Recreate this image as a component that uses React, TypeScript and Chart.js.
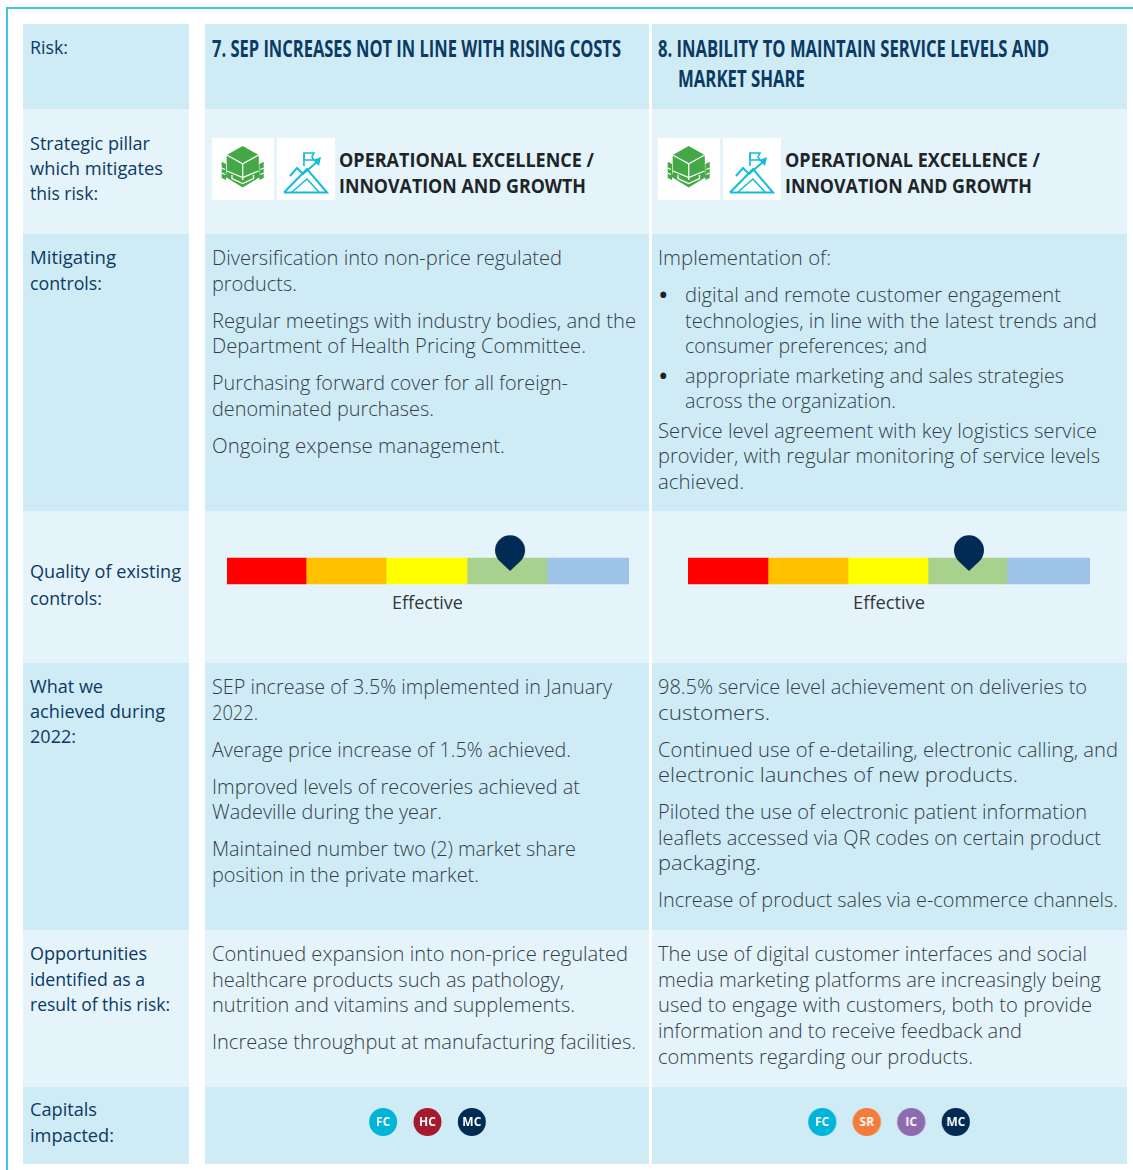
import React, { useEffect, useRef } from "react";
import { Chart, registerables } from "chart.js";

Chart.register(...registerables);

type L = [string, number, number, number];

const sideLines: L[] = [
  ["Risk:", 30, 47, 68],
  ["Strategic pillar", 30, 143, 150],
  ["which mitigates", 30, 168, 163],
  ["this risk:", 30, 193, 98],
  ["Mitigating", 30, 257, 116],
  ["controls:", 30, 283, 102],
  ["Quality of existing", 30, 571, 181],
  ["controls:", 30, 598, 102],
  ["What we", 30, 686, 103],
  ["achieved during", 30, 711, 165],
  ["2022:", 30, 736, 76],
  ["Opportunities", 30, 953, 147],
  ["identified as a", 30, 979, 145],
  ["result of this risk:", 30, 1004, 170],
  ["Capitals", 30, 1109, 97],
  ["impacted:", 30, 1135, 114],
];

const titleLines: L[] = [
  ["7. SEP INCREASES NOT IN LINE WITH RISING COSTS", 212, 48, 621],
  ["8. INABILITY TO MAINTAIN SERVICE LEVELS AND", 658, 48, 1049],
  ["MARKET SHARE", 678, 78, 805],
];

const pillarLines: L[] = [
  ["OPERATIONAL EXCELLENCE /", 339, 160, 594],
  ["INNOVATION AND GROWTH", 339, 186, 586],
  ["OPERATIONAL EXCELLENCE /", 785, 160, 1040],
  ["INNOVATION AND GROWTH", 785, 186, 1032],
];

const bodyLines: L[] = [
  ["Diversification into non-price regulated", 212, 258, 562],
  ["products.", 212, 284, 297],
  ["Regular meetings with industry bodies, and the", 212, 321, 636],
  ["Department of Health Pricing Committee.", 212, 346, 586],
  ["Purchasing forward cover for all foreign-", 212, 383, 568],
  ["denominated purchases.", 212, 409, 434],
  ["Ongoing expense management.", 212, 446, 505],
  ["SEP increase of 3.5% implemented in January", 212, 687, 612],
  ["2022.", 212, 713, 258],
  ["Average price increase of 1.5% achieved.", 212, 750, 571],
  ["Improved levels of recoveries achieved at", 212, 787, 580],
  ["Wadeville during the year.", 212, 812, 442],
  ["Maintained number two (2) market share", 212, 849, 576],
  ["position in the private market.", 212, 875, 479],
  ["Continued expansion into non-price regulated", 212, 954, 628],
  ["healthcare products such as pathology,", 212, 980, 564],
  ["nutrition and vitamins and supplements.", 212, 1005, 575],
  ["Increase throughput at manufacturing facilities.", 212, 1042, 636],
  ["Implementation of:", 658, 258, 831],
  ["digital and remote customer engagement", 685, 295, 1061],
  ["technologies, in line with the latest trends and", 685, 321, 1097],
  ["consumer preferences; and", 685, 346, 927],
  ["appropriate marketing and sales strategies", 685, 376, 1064],
  ["across the organization.", 685, 401, 896],
  ["Service level agreement with key logistics service", 658, 431, 1097],
  ["provider, with regular monitoring of service levels", 658, 456, 1100],
  ["achieved.", 658, 482, 744],
  ["98.5% service level achievement on deliveries to", 658, 687, 1087],
  ["customers.", 658, 713, 770],
  ["Continued use of e-detailing, electronic calling, and", 658, 750, 1118],
  ["electronic launches of new products.", 658, 775, 1018],
  ["Piloted the use of electronic patient information", 658, 812, 1087],
  ["leaflets accessed via QR codes on certain product", 658, 838, 1101],
  ["packaging.", 658, 863, 761],
  ["Increase of product sales via e-commerce channels.", 658, 900, 1118],
  ["The use of digital customer interfaces and social", 658, 954, 1087],
  ["media marketing platforms are increasingly being", 658, 980, 1101],
  ["used to engage with customers, both to provide", 658, 1005, 1092],
  ["information and to receive feedback and", 658, 1031, 1022],
  ["comments regarding our products.", 658, 1057, 973],
];

const effectiveLines: L[] = [
  ["Effective", 392, 602, 463],
  ["Effective", 853, 602, 925],
];

const gaugeBandColors = ["#ff0000", "#ffc000", "#ffff00", "#a9d18e", "#9dc3e6"];
const gaugeBandsLeft = [0.983, 0.995, 1.007, 0.995, 1.02];
const gaugeBandsRight = [0.995, 0.995, 0.995, 0.983, 1.032];
const ratingLeft = 3.52;
const ratingRight = 3.495;

const capitalColors: Record<string, string> = {
  FC: "#00b5d8",
  HC: "#a6192e",
  MC: "#002b55",
  SR: "#f47b3a",
  IC: "#8e6bae",
};
const capitalsLeft = ["FC", "HC", "MC"];
const capitalsRight = ["FC", "SR", "IC", "MC"];

const DARK = "#cfebf5";
const LIGHT = "#e4f4fa";
const NAVY = "#0b3a63";
const rowEdges = [24, 109, 234, 511, 663, 930, 1087, 1164];
const cols: [number, number][] = [
  [23, 189],
  [205, 649],
  [652, 1127],
];

function makePin() {
  const c = document.createElement("canvas");
  c.width = 36;
  c.height = 74;
  const g = c.getContext("2d")!;
  const r = 15;
  const tipY = 37;
  const cy = tipY - 20.7;
  g.fillStyle = "#002b55";
  g.beginPath();
  g.arc(18, cy, r, Math.PI * 0.75, Math.PI * 0.25);
  g.lineTo(18, tipY);
  g.closePath();
  g.fill();
  return c;
}

function Gauge({ left, bands, rating }: { left: number; bands: number[]; rating: number }) {
  const ref = useRef<HTMLCanvasElement>(null);
  useEffect(() => {
    const chart = new Chart(ref.current!, {
      type: "bar",
      data: {
        labels: ["Quality"],
        datasets: [
          {
            type: "scatter",
            data: [{ x: rating, y: "Quality" }],
            pointStyle: makePin(),
            clip: false,
            order: 0,
          } as any,
          ...bands.map((b, i) => ({
            data: [b],
            backgroundColor: gaugeBandColors[i],
            barThickness: 26,
            stack: "q",
            order: 1,
          })),
        ],
      },
      options: {
        indexAxis: "y",
        responsive: false,
        animation: false,
        layout: { padding: 0, autoPadding: false },
        plugins: { legend: { display: false }, tooltip: { enabled: false } },
        scales: {
          x: { type: "linear", stacked: true, min: 0, max: 5, display: false },
          y: { type: "category", stacked: true, display: false },
        },
      },
    } as any);
    return () => chart.destroy();
  }, []);
  return (
    <canvas
      ref={ref}
      width={402}
      height={82}
      style={{ position: "absolute", left, top: 530, width: 402, height: 82 }}
    />
  );
}

const badgeLabels = {
  id: "badgeLabels",
  afterDatasetsDraw(chart: any) {
    const g = chart.ctx;
    const meta = chart.getDatasetMeta(0);
    g.save();
    g.fillStyle = "#ffffff";
    g.font = "bold 12px 'Open Sans'";
    g.textAlign = "center";
    g.textBaseline = "middle";
    meta.data.forEach((p: any, i: number) => {
      g.fillText(chart.data.labels[i], p.x, p.y + 0.5);
    });
    g.restore();
  },
};

function Capitals({ left, labels }: { left: number; labels: string[] }) {
  const ref = useRef<HTMLCanvasElement>(null);
  const w = labels.length * 44.4;
  useEffect(() => {
    const chart = new Chart(ref.current!, {
      type: "line",
      data: {
        labels,
        datasets: [
          {
            data: labels.map(() => 1),
            showLine: false,
            pointRadius: 14,
            pointBorderWidth: 0,
            pointBackgroundColor: labels.map((l) => capitalColors[l]),
            clip: false,
          },
        ],
      },
      options: {
        responsive: false,
        animation: false,
        layout: { padding: 0, autoPadding: false },
        plugins: { legend: { display: false }, tooltip: { enabled: false } },
        scales: {
          x: { type: "category", offset: true, display: false },
          y: { min: 0, max: 2, display: false },
        },
      },
      plugins: [badgeLabels],
    } as any);
    return () => chart.destroy();
  }, []);
  return (
    <canvas
      ref={ref}
      width={w}
      height={70}
      style={{ position: "absolute", left, top: 1087, width: w, height: 70 }}
    />
  );
}

function TextLine({ line, font, size, weight, color }: { line: L; font: string; size: number; weight: number; color: string }) {
  const [text, x, y, right] = line;
  return (
    <div
      data-right={right - x}
      style={{
        position: "absolute",
        left: x,
        top: y - 15,
        height: 30,
        lineHeight: "30px",
        whiteSpace: "nowrap",
        fontFamily: font,
        fontSize: size,
        fontWeight: weight,
        color,
        transformOrigin: "left center",
      }}
    >
      {text}
    </div>
  );
}

function PillarIcons({ x }: { x: number }) {
  return (
    <>
      <svg
        width={62}
        height={62}
        viewBox="0 0 62 62"
        style={{ position: "absolute", left: x, top: 138, background: "#fff" }}
      >
        <polygon points="30.7,8 46.7,17 47,34 48,39 30.7,49.5 13.7,39 14.7,34 14.7,17" fill="#43a845" />
        <polygon points="9.7,23.7 14,26 14,42 9.7,40" fill="#43a845" />
        <polygon points="51.7,23.7 47.4,26 47.4,42 51.7,40" fill="#43a845" />
        <g fill="none" stroke="#fff" strokeWidth="1.3">
          <polyline points="14.7,17 30.7,25.8 46.7,17" />
          <line x1="30.7" y1="25.8" x2="30.7" y2="42" />
          <polyline points="15,33 30.7,39.5 46.5,33" />
          <polyline points="20,37 20,40.5 30.7,45.5 41.5,40.5 41.5,37" />
          <line x1="9.7" y1="30" x2="13" y2="31.5" />
          <line x1="9.7" y1="35" x2="13" y2="36.5" />
          <line x1="51.7" y1="30" x2="48.4" y2="31.5" />
          <line x1="51.7" y1="35" x2="48.4" y2="36.5" />
        </g>
      </svg>
      <svg
        width={58}
        height={62}
        viewBox="0 0 58 62"
        style={{ position: "absolute", left: x + 65, top: 138, background: "#fff" }}
      >
        <g fill="none" stroke="#12bcdc" strokeWidth="2">
          <polyline points="7,54.5 30,31 50,54.5 7,54.5" />
          <polyline points="15,54 30,41 42,54" strokeWidth="1.6" />
          <polyline points="13,38 20,30 26,36 40,24" />
          <polyline points="27,28 27,15" strokeWidth="1.6" />
        </g>
        <polygon points="27,15 37,15 35,19 37,22 27,22" fill="none" stroke="#12bcdc" strokeWidth="1.6" />
        <polygon points="36,22 44,19 42,28" fill="#12bcdc" />
      </svg>
    </>
  );
}

export default function App() {
  useEffect(() => {
    const fit = () => {
      document.querySelectorAll<HTMLElement>("[data-right]").forEach((el) => {
        el.style.transform = "none";
        const want = Number(el.dataset.right);
        const have = el.getBoundingClientRect().width;
        if (have > 0) el.style.transform = `scaleX(${want / have})`;
      });
    };
    fit();
    (document as any).fonts?.ready?.then(fit);
  }, []);

  const body = "'Open Sans'";
  return (
    <div style={{ position: "absolute", left: 0, top: 0, width: 1133, height: 1170, background: "#fff", overflow: "hidden" }}>
      <div style={{ position: "absolute", left: 6, top: 7, width: 1140, height: 1180, border: "2px solid #3cc6e2", boxSizing: "border-box" }} />
      {cols.map(([a, b], c) =>
        rowEdges.slice(0, -1).map((top, r) => (
          <div
            key={`${c}-${r}`}
            style={{
              position: "absolute",
              left: a,
              width: b - a,
              top,
              height: rowEdges[r + 1] - top,
              background: r % 2 === 0 ? DARK : LIGHT,
            }}
          />
        ))
      )}
      <PillarIcons x={212} />
      <PillarIcons x={658} />
      {titleLines.map((l, i) => (
        <TextLine key={i} line={l} font={body} size={23} weight={700} color={NAVY} />
      ))}
      {pillarLines.map((l, i) => (
        <TextLine key={i} line={l} font={body} size={19} weight={700} color="#1f2428" />
      ))}
      {sideLines.map((l, i) => (
        <TextLine key={i} line={l} font={body} size={18} weight={400} color={NAVY} />
      ))}
      {bodyLines.map((l, i) => (
        <TextLine key={i} line={l} font={body} size={20} weight={300} color="#333e48" />
      ))}
      {effectiveLines.map((l, i) => (
        <TextLine key={i} line={l} font={body} size={18} weight={400} color="#33363a" />
      ))}
      {[295, 376].map((y) => (
        <div key={y} style={{ position: "absolute", left: 658, top: y - 16, lineHeight: "30px", fontFamily: body, fontSize: 28, color: "#222" }}>
          •
        </div>
      ))}
      <Gauge left={227} bands={gaugeBandsLeft} rating={ratingLeft} />
      <Gauge left={688} bands={gaugeBandsRight} rating={ratingRight} />
      <Capitals left={361} labels={capitalsLeft} />
      <Capitals left={800} labels={capitalsRight} />
    </div>
  );
}
